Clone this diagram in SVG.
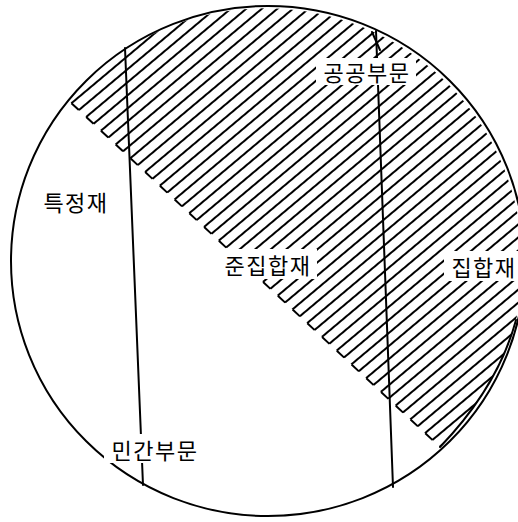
<svg xmlns="http://www.w3.org/2000/svg" width="518" height="522" viewBox="0 0 518 522">
<style>
.ln{stroke:#000;stroke-width:2;fill:none;stroke-linecap:round}
.lbl{font-family:"Noto Sans CJK KR","Noto Sans",sans-serif;font-size:22px;fill:#000;text-anchor:middle;letter-spacing:1.5px}
.bg{fill:#fff}
</style>
<defs>
<pattern id="hatch" patternUnits="userSpaceOnUse" width="100" height="10" patternTransform="rotate(-40)">
<rect x="0" y="4" width="100" height="2" fill="#000"/>
</pattern>
</defs>
<rect width="518" height="522" fill="#fff"/>
<g id="region-public">
<path d="M68,100 L440,447 Q498,386.5 516,320 A257,255 0 0,0 68,100 Z" fill="url(#hatch)"/>
<path d="M68,100 L440,447" fill="none" stroke="#000" stroke-width="2" stroke-dasharray="10.08 10.08" stroke-dashoffset="15.43"/>
<path d="M440,447 Q498,386.5 516,320" class="ln"/>
</g>
<g id="circle">
<ellipse cx="268" cy="261" rx="257" ry="255" class="ln"/>
</g>
<g id="connectors">
<line x1="125" y1="48" x2="143" y2="485" class="ln"/>
<line x1="376" y1="31" x2="393" y2="487" class="ln"/>
<line x1="372" y1="32" x2="380" y2="50" class="ln"/>
</g>
<g id="label-public">
<rect class="bg" x="316" y="58" width="100" height="27"/>
<text class="lbl" x="367" y="81">공공부문</text>
</g>
<g id="label-private">
<rect class="bg" x="104" y="434" width="102" height="29"/>
<text class="lbl" x="155" y="459">민간부문</text>
</g>
<g id="label-specific">
<text class="lbl" x="76" y="211">특정재</text>
</g>
<g id="label-quasi">
<rect class="bg" x="219" y="249" width="98" height="30"/>
<text class="lbl" x="268" y="274">준집합재</text>
</g>
<g id="label-collective">
<rect class="bg" x="444" y="251" width="74" height="30"/>
<text class="lbl" x="484" y="276">집합재</text>
</g>
</svg>
